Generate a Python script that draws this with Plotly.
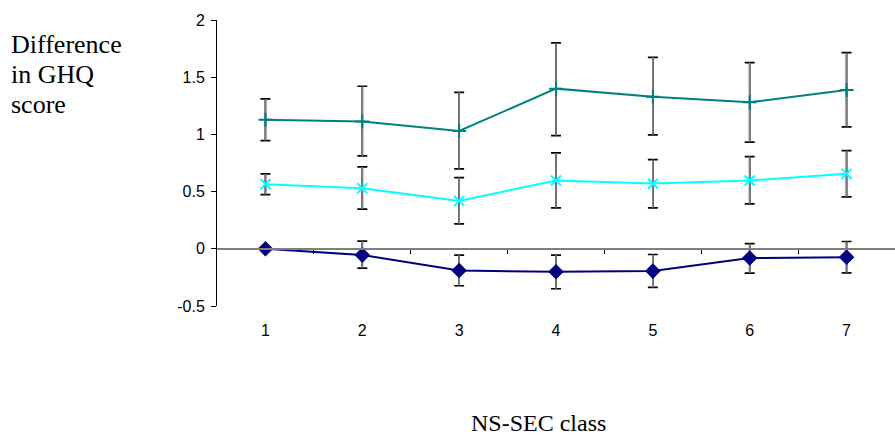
import plotly.graph_objects as go

# NS-SEC classes on the x axis
classes = [1, 2, 3, 4, 5, 6, 7]

# Upper series (teal): mean difference and confidence limits
teal_mean = [1.127, 1.112, 1.030, 1.400, 1.330, 1.281, 1.389]
teal_upper = [1.310, 1.421, 1.368, 1.800, 1.674, 1.627, 1.714]
teal_lower = [0.946, 0.812, 0.699, 0.990, 0.996, 0.932, 1.066]

# Middle series (cyan)
cyan_mean = [0.565, 0.530, 0.419, 0.597, 0.570, 0.597, 0.655]
cyan_upper = [0.655, 0.716, 0.623, 0.838, 0.780, 0.806, 0.859]
cyan_lower = [0.474, 0.347, 0.218, 0.358, 0.358, 0.393, 0.454]

# Reference series (navy), class 1 is the baseline
navy_mean = [0.000, -0.055, -0.190, -0.201, -0.195, -0.081, -0.073]
navy_upper = [0.000, 0.067, -0.055, -0.055, -0.050, 0.046, 0.064]
navy_lower = [0.000, -0.169, -0.323, -0.349, -0.338, -0.212, -0.210]

y_ticks = [-0.5, 0, 0.5, 1, 1.5, 2]
y_tick_text = ["-0.5", "0", "0.5", "1", "1.5", "2"]
between_ticks = [1.5, 2.5, 3.5, 4.5, 5.5, 6.5]

y_title_lines = ["Difference", "in GHQ", "score"]
x_title = "NS-SEC class"

series = [
    (navy_mean, navy_upper, navy_lower, "#000080",
     dict(symbol="diamond", size=12, color="#000080")),
    (cyan_mean, cyan_upper, cyan_lower, "#00FFFF",
     dict(symbol="x-thin", size=10, color="#00FFFF",
          line=dict(color="#00FFFF", width=2))),
    (teal_mean, teal_upper, teal_lower, "#008080",
     dict(symbol="cross-thin", size=10, color="#008080",
          line=dict(color="#008080", width=2))),
]

fig = go.Figure()

# error bars: black caps underneath, grey stems drawn over them
for mean, upper, lower, color, marker in series:
    plus = [u - m for u, m in zip(upper, mean)]
    minus = [m - l for m, l in zip(mean, lower)]
    for bar_color, cap in (("#000000", 5), ("#7f7f7f", 0)):
        fig.add_trace(go.Scatter(
            x=classes, y=mean, mode="markers",
            marker=dict(opacity=0, size=1),
            error_y=dict(type="data", symmetric=False, array=plus,
                         arrayminus=minus, color=bar_color,
                         thickness=1.7, width=cap),
            showlegend=False, hoverinfo="skip",
        ))

for mean, upper, lower, color, marker in series:
    fig.add_trace(go.Scatter(
        x=classes, y=mean, mode="lines+markers",
        line=dict(color=color, width=2),
        marker=marker, showlegend=False,
    ))

# horizontal axis line crossing at zero with between-category ticks
fig.add_trace(go.Scatter(x=classes, y=[None] * 7, xaxis="x2",
                         showlegend=False, hoverinfo="skip"))

serif = dict(family="Liberation Serif, Times New Roman", size=26,
             color="black")

annotations = []
for line_text, ypos in zip(y_title_lines, [0.913, 0.808, 0.706]):
    annotations.append(dict(
        text=line_text, xref="paper", yref="paper", x=-0.307, y=ypos,
        xanchor="left", yanchor="middle", showarrow=False, font=serif))
annotations.append(dict(
    text=x_title, xref="paper", yref="paper", x=0.4735, y=-0.41,
    xanchor="center", yanchor="middle", showarrow=False,
    font=dict(family="Liberation Serif, Times New Roman", size=24,
              color="black")))

fig.update_layout(
    width=895, height=436,
    margin=dict(l=217, r=0, t=20, b=130),
    paper_bgcolor="white", plot_bgcolor="white",
    font=dict(family="Liberation Sans, Arial", size=16, color="black"),
    xaxis=dict(
        range=[0.5, 7.5], tickmode="array", tickvals=classes,
        ticktext=[str(c) for c in classes], ticks="", showline=False,
        showgrid=False, zeroline=False, ticklabelstandoff=13,
        tickfont=dict(size=16),
    ),
    xaxis2=dict(
        range=[0.5, 7.5], overlaying="x", anchor="free", position=0.2,
        showline=True, linecolor="#7f7f7f", linewidth=2,
        ticks="outside", tickvals=between_ticks, ticklen=4,
        tickcolor="black", tickwidth=1, showticklabels=False,
        showgrid=False, zeroline=False,
    ),
    yaxis=dict(
        range=[-0.5, 2], tickmode="array", tickvals=y_ticks,
        ticktext=y_tick_text, ticks="outside", ticklen=5,
        tickcolor="black", showline=True, linecolor="black", linewidth=1,
        showgrid=False, zeroline=False, tickfont=dict(size=16),
        ticklabelstandoff=3,
    ),
    annotations=annotations,
)

fig.write_html("out.html")
